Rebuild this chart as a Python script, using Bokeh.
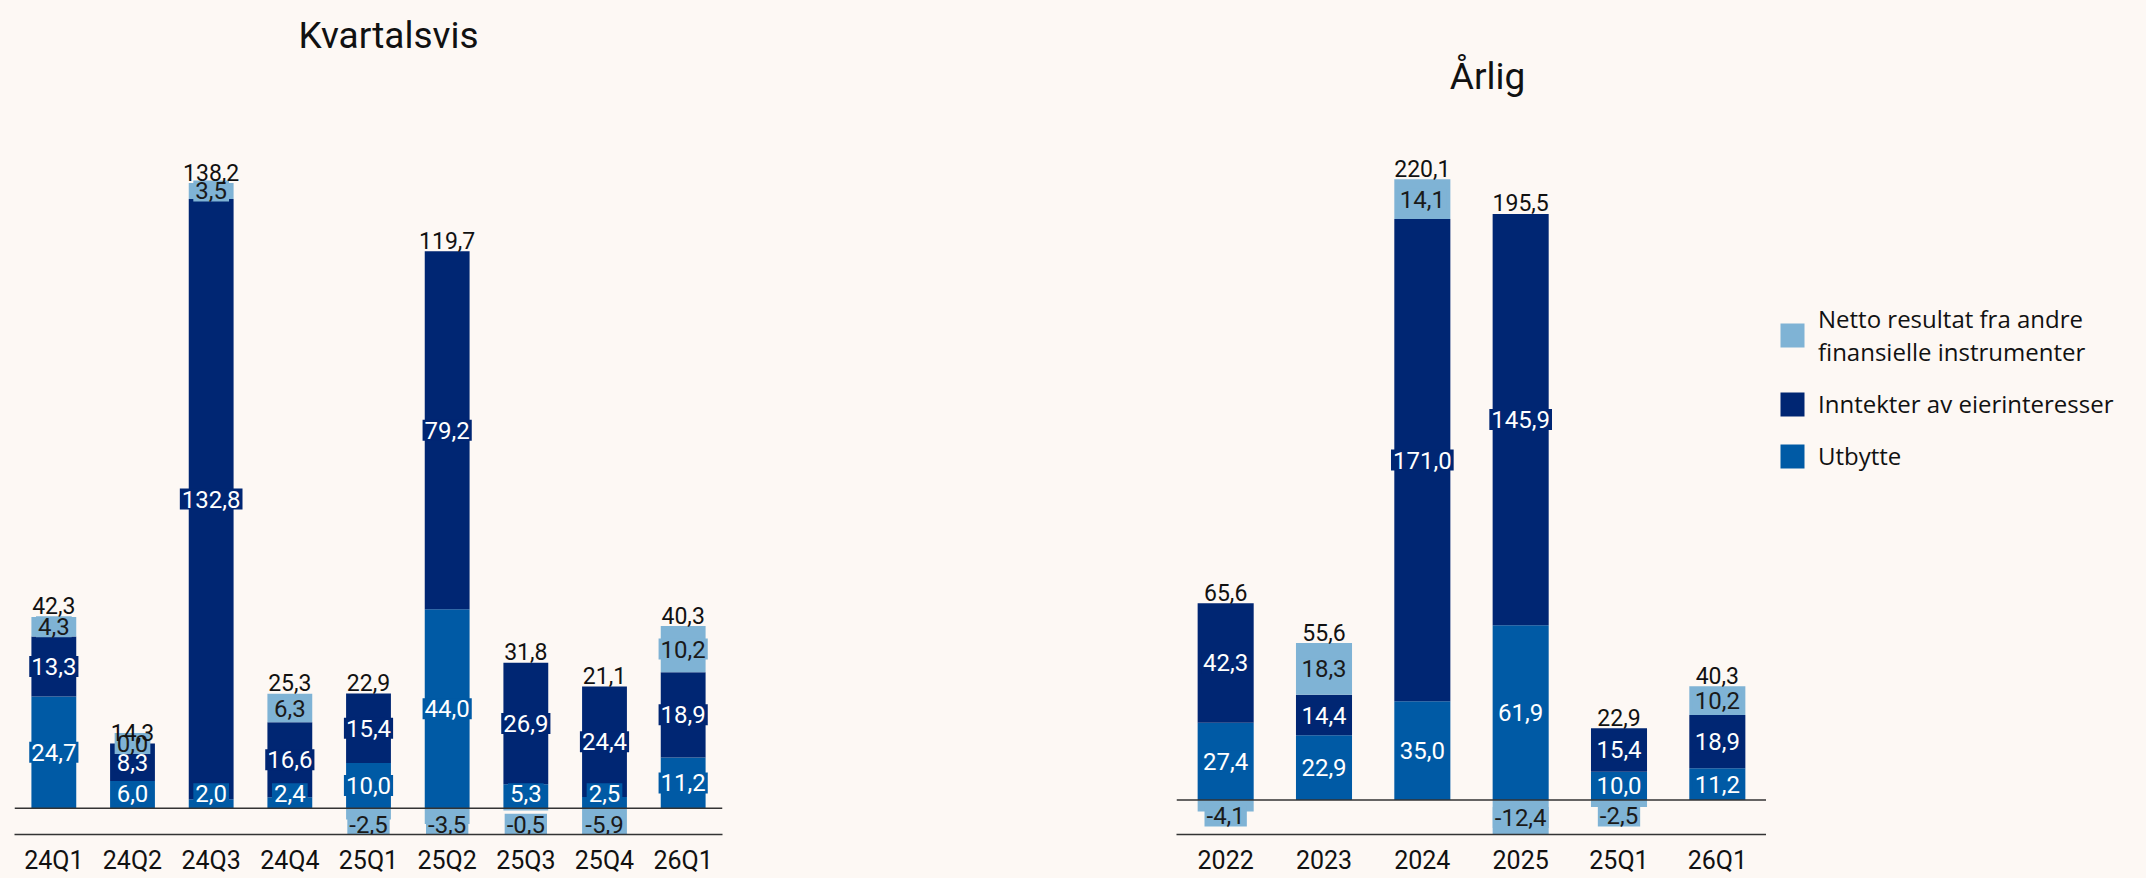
import numpy as np
from bokeh.plotting import figure
from bokeh.models import (Range1d, FixedTicker, Label, Legend, LegendItem, Span,
                          ColumnDataSource, GlobalInlineStyleSheet)
from bokeh.layouts import row
from bokeh.embed import file_html
from bokeh.resources import INLINE
from bokeh.core.properties import value

# ---------------- data ----------------
q_cats = ["24Q1", "24Q2", "24Q3", "24Q4", "25Q1", "25Q2", "25Q3", "25Q4", "26Q1"]
q_utbytte = [24.7, 6.0, 2.0, 2.4, 10.0, 44.0, 5.3, 2.5, 11.2]
q_inntekter = [13.3, 8.3, 132.8, 16.6, 15.4, 79.2, 26.9, 24.4, 18.9]
q_netto = [4.3, 0.0, 3.5, 6.3, -2.5, -3.5, -0.5, -5.9, 10.2]
q_total = [42.3, 14.3, 138.2, 25.3, 22.9, 119.7, 31.8, 21.1, 40.3]

a_cats = ["2022", "2023", "2024", "2025", "25Q1", "26Q1"]
a_utbytte = [27.4, 22.9, 35.0, 61.9, 10.0, 11.2]
a_inntekter = [42.3, 14.4, 171.0, 145.9, 15.4, 18.9]
a_netto = [-4.1, 18.3, 14.1, -12.4, -2.5, 10.2]
a_total = [65.6, 55.6, 220.1, 195.5, 22.9, 40.3]

series_names = ["Netto resultat fra andre\nfinansielle instrumenter",
                "Inntekter av eierinteresser",
                "Utbytte"]
titles = ["Kvartalsvis", "Årlig"]

# ---------------- style ----------------
BG = "#FDF8F4"
C_NETTO = "#7FB3D5"
C_INNT = "#002673"
C_UTB = "#005AA5"
NUM_FONT = "Roboto"
LEG_FONT = "Open Sans"
FIG_H = 878
FRAME_H = 834


def fmt(v):
    return f"{v:.1f}".replace(".", ",")


def make(cats, u, i, n, tot, title, title_dx, title_base, width, mb_left, mb_right,
         y0, y1, bar_w):
    u = np.array(u, dtype=float)
    i = np.array(i, dtype=float)
    n = np.array(n, dtype=float)
    xs = np.arange(len(cats))
    p = figure(width=width, height=FIG_H, x_range=Range1d(-0.5, len(cats) - 0.5),
               y_range=Range1d(y0, y1),
               output_backend="svg", toolbar_location=None, y_axis_location=None,
               min_border_left=mb_left, min_border_right=mb_right,
               min_border_top=0, min_border_bottom=FIG_H - FRAME_H,
               background_fill_color=BG, border_fill_color=BG, outline_line_color=None)
    p.grid.visible = False
    ax = p.xaxis[0]
    ax.ticker = FixedTicker(ticks=[int(k) for k in xs])
    ax.major_label_overrides = {int(k): c for k, c in zip(xs, cats)}
    ax.major_tick_line_color = None
    ax.minor_tick_line_color = None
    ax.major_tick_out = 0
    ax.major_tick_in = 0
    ax.axis_line_color = "#333333"
    ax.axis_line_width = 1.5
    ax.major_label_text_font = NUM_FONT
    ax.major_label_text_font_size = "25px"
    ax.major_label_text_color = "#111111"
    ax.major_label_standoff = 11

    i_top = u + i
    n_bot = np.where(n >= 0, i_top, 0.0)
    n_top = np.where(n >= 0, i_top + n, n)

    r_u = p.vbar(x=xs, bottom=0, top=u, width=bar_w, fill_color=C_UTB, line_color=None)
    r_i = p.vbar(x=xs, bottom=u, top=i_top, width=bar_w, fill_color=C_INNT, line_color=None)
    r_n = p.vbar(x=xs, bottom=n_bot, top=n_top, width=bar_w, fill_color=C_NETTO, line_color=None)
    p.add_layout(Span(location=0, dimension="width", line_color="#333333", line_width=1.5))

    ppu = FRAME_H / (y1 - y0)
    pc = 14.5 / ppu
    nc = 16.0 / ppu

    y_u = np.maximum(u / 2.0, pc)
    y_i = np.maximum((u + i_top) / 2.0, pc)
    y_n = np.where(n >= 0, np.maximum((n_bot + n_top) / 2.0, pc), np.minimum(n / 2.0, -nc))

    for ys, vals, col, tcol in [(y_u, u, C_UTB, "#FFFFFF"),
                                (y_i, i, C_INNT, "#FFFFFF"),
                                (y_n, n, C_NETTO, "#1A1A1A")]:
        src = ColumnDataSource(dict(x=xs, y=ys, t=[fmt(v) for v in vals]))
        p.text(x="x", y="y", text="t", source=src, text_align="center", text_baseline="middle",
               text_font=value(NUM_FONT), text_font_size="24px", text_color=tcol,
               background_fill_color=col, padding=2)

    pos_top = np.maximum(i_top, n_top)
    tsrc = ColumnDataSource(dict(x=xs, y=pos_top, t=[fmt(v) for v in tot]))
    p.text(x="x", y="y", text="t", source=tsrc, text_align="center", text_baseline="alphabetic",
           y_offset=-11, text_font=value(NUM_FONT), text_font_size="23px", text_color="#111111")

    p.add_layout(Label(x=title_dx, y=title_base, x_units="screen", y_units="screen", text=title,
                       text_align="center", text_baseline="alphabetic", text_font=NUM_FONT,
                       text_font_size="37px", text_color="#111111"))
    return p, (r_n, r_i, r_u)


left, _ = make(q_cats, q_utbytte, q_inntekter, q_netto, q_total, titles[0],
               374, 799, 724, 14, 2, -5.82, -5.82 + FRAME_H / 4.52, 0.57)
right, _ = make(a_cats, a_utbytte, a_inntekter, a_netto, a_total, titles[1],
                311, 758, 1042, 452, 0, -12.27, -12.27 + FRAME_H / 2.82, 0.57)

# legend panel (its own figure; zero-height proxy bars carry the series colours)
leg = figure(width=380, height=FIG_H, x_range=Range1d(0, 1), y_range=Range1d(0, 1),
             output_backend="svg", toolbar_location=None, x_axis_location=None,
             y_axis_location=None, min_border=0, outline_line_color=None,
             background_fill_color=BG, border_fill_color=BG)
leg.grid.visible = False
proxies = [leg.vbar(x=[0.5], bottom=[0], top=[0], width=0.5, fill_color=c, line_color=None)
           for c in (C_NETTO, C_INNT, C_UTB)]
legend = Legend(items=[LegendItem(label=series_names[k], renderers=[proxies[k]]) for k in range(3)],
                location=(11, 362), orientation="vertical", padding=0, margin=0, spacing=19,
                glyph_width=30, glyph_height=30, label_standoff=11,
                label_text_font=LEG_FONT, label_text_font_size="24px", label_text_color="#111111",
                label_text_line_height=0.72,
                border_line_color=None, background_fill_alpha=0)
leg.add_layout(legend, "center")

layout = row(left, right, leg,
             stylesheets=[GlobalInlineStyleSheet(css="body{background:#FDF8F4;overflow:hidden;}")])
open("out.html", "w").write(file_html(layout, INLINE))
